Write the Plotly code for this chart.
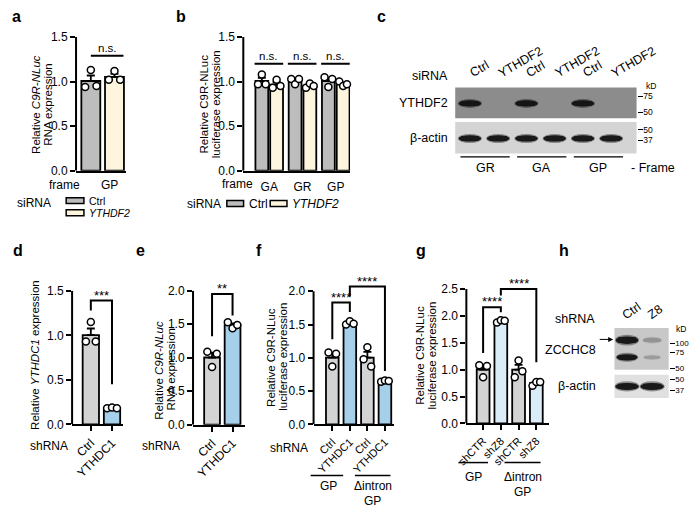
import numpy as np
import plotly.graph_objects as go

W, H = 696, 515
FONT = "Liberation Sans, Arial, Helvetica, sans-serif"
FS = 11.5
TFS = 12

# ---------------- data ----------------
A_FRAMES = ["GP"]
A_CTRL = [0.94, 1.13, 0.95]
A_YTHDF2 = [1.02, 1.12, 1.02]

B_FRAMES = ["GA", "GR", "GP"]
B_CTRL = [[0.97, 1.08, 0.97], [1.03, 0.97, 1.03], [1.05, 0.94, 1.03]]
B_YTHDF2 = [[0.93, 1.02, 0.95], [0.93, 0.98, 0.95], [1.00, 0.95, 0.97]]

D_LABELS = ["Ctrl", "YTHDC1"]
D_REPS = [[0.93, 1.15, 0.93], [0.18, 0.19, 0.18]]

E_LABELS = ["Ctrl", "YTHDC1"]
E_REPS = [[1.09, 0.86, 1.06], [1.53, 1.44, 1.49]]

F_LABELS = ["Ctrl", "YTHDC1", "Ctrl", "YTHDC1"]
F_REPS = [[1.08, 0.87, 1.06], [1.50, 1.55, 1.51], [0.98, 1.16, 0.87], [0.64, 0.66, 0.65]]

G_LABELS = ["shCTR", "shZ8", "shCTR", "shZ8"]
G_REPS = [[1.08, 0.86, 1.07], [1.88, 1.92, 1.91], [0.86, 1.17, 0.97], [0.70, 0.77, 0.77]]

# significance: (bar i, bar j, bracket top, leg i bottom, leg j bottom, label)
D_SIG = [(0, 1, 1.39, 1.28, 0.45, "***")]
E_SIG = [(0, 1, 1.95, 1.32, 1.63, "**")]
F_SIG = [(0, 1, 1.83, 1.28, 1.69, "****"), (1, 3, 2.07, 1.92, 0.80, "****")]
G_SIG = [(0, 1, 2.16, 1.31, 2.07, "****"), (1, 3, 2.50, 2.38, 1.14, "****")]
A_NS = 1.29
B_NS = 1.20

# western blots (relative migration 0 = top of strip, 1 = bottom)
C_LANES = ["Ctrl", "YTHDF2", "Ctrl", "YTHDF2", "Ctrl", "YTHDF2"]
C_FRAMES = ["GR", "GA", "GP"]
C_YTHDF2_BAND = [1, 0, 1, 0, 1, 0]
C_ACTIN_BAND = [1, 1, 1, 1, 1, 1]
C_TOP_KD = [75, 50]
C_TOP_KD_POS = [0.29, 0.80]
C_YTHDF2_POS = 0.52
C_BOT_KD = [50, 37]
C_BOT_KD_POS = [0.24, 0.58]
C_ACTIN_POS = 0.52

H_LANES = ["Ctrl", "Z8"]
H_ZC_UPPER = [1.0, 0.3]
H_ZC_LOWER = [1.0, 0.25]
H_ACTIN = [1.0, 1.0]
H_TOP_KD = [100, 75, 50]
H_TOP_KD_POS = [0.37, 0.575, 0.97]
H_ZC_POS = [0.29, 0.70]
H_BOT_KD = [50, 37]
H_BOT_KD_POS = [0.21, 0.67]
H_ACTIN_POS = 0.5

# ---------------- styles ----------------
GRAY_AB = "#bdbdbd"
CREAM = "#fdf5de"
GRAY = "#d3d3d3"
BLUE = "#a6cfe9"
PALE_BLUE = "#dbecf9"
JIT = [-0.3, 0.0, 0.3]

fig = go.Figure()
axes = {}
shapes = []
ann = []


def fx(px):
    return px / W


def fy(py):
    return 1 - py / H


def names(k):
    s = "" if k == 1 else str(k)
    return "x" + s, "y" + s, "xaxis" + s, "yaxis" + s


def text(px, py, s, size=FS, xanchor="center", yanchor="middle", angle=0):
    ann.append(dict(xref="paper", yref="paper", x=fx(px), y=fy(py), text=s,
                    showarrow=False, xanchor=xanchor, yanchor=yanchor,
                    textangle=angle, font=dict(size=size)))


def hline(x0, x1, py, width=1.5):
    shapes.append(dict(type="line", xref="paper", yref="paper", x0=fx(x0), x1=fx(x1),
                       y0=fy(py), y1=fy(py), line=dict(color="black", width=width)))


def bar_panel(k, ax, end, c0, u, zero, ppu, ytop, rtop, yticks, xtickvals=(),
              xticktext=(), xticks=True, tickangle=-45, standoff=None, xfs=TFS):
    xr, yr, xk, yk = names(k)
    axes[xk] = dict(domain=[fx(ax), fx(end)], range=[-(c0 - ax) / u, (end - c0) / u],
                    anchor=yr, showline=True, linewidth=2, linecolor="black",
                    showgrid=False, zeroline=False,
                    ticks="outside" if xticks else "", ticklen=5, tickwidth=2,
                    tickcolor="black", tickmode="array", tickvals=list(xtickvals),
                    ticktext=list(xticktext), tickangle=tickangle,
                    tickfont=dict(size=xfs))
    if standoff is not None:
        axes[xk]["ticklabelstandoff"] = standoff
    axes[yk] = dict(domain=[fy(zero), fy(zero - rtop * ppu)], range=[0, rtop], anchor=xr,
                    showline=False, showgrid=False, zeroline=False, ticks="outside",
                    ticklen=5, tickwidth=2, tickcolor="black", tickmode="array",
                    tickvals=list(yticks), ticktext=[f"{v:.1f}" for v in yticks],
                    tickfont=dict(size=TFS))
    shapes.append(dict(type="line", xref=xr + " domain", yref=yr, x0=0, x1=0, y0=0,
                       y1=ytop, line=dict(color="black", width=2)))
    return xr, yr


def add_bars(xr, yr, xs, reps, colors, width):
    means = [float(np.mean(r)) for r in reps]
    sems = [float(np.std(r, ddof=1) / np.sqrt(len(r))) for r in reps]
    fig.add_trace(go.Bar(x=list(xs), y=means, width=width, xaxis=xr, yaxis=yr,
                         marker=dict(color=colors, line=dict(color="black", width=1.8)),
                         error_y=dict(type="data", symmetric=False, array=sems,
                                      arrayminus=[0] * len(sems), color="black",
                                      thickness=1.8, width=4),
                         showlegend=False, hoverinfo="skip"))
    px_, py_ = [], []
    for x, r in zip(xs, reps):
        for j, v in zip(JIT, r):
            px_.append(x + j * width)
            py_.append(v)
    fig.add_trace(go.Scatter(x=px_, y=py_, mode="markers", xaxis=xr, yaxis=yr,
                             marker=dict(size=7, color="white",
                                         line=dict(color="black", width=1.5)),
                             showlegend=False, hoverinfo="skip", cliponaxis=False))


def add_sig(xr, yr, sigs):
    for i, j, top, li, lj, lab in sigs:
        shapes.append(dict(type="path", xref=xr, yref=yr,
                           path=f"M {i},{li} L {i},{top} L {j},{top} L {j},{lj}",
                           line=dict(color="black", width=2)))
        ann.append(dict(xref=xr, yref=yr, x=(i + j) / 2, y=top, text=lab,
                        showarrow=False, yanchor="bottom", yshift=-4,
                        font=dict(size=13)))


def ns(xr, yr, x0, x1, y):
    shapes.append(dict(type="line", xref=xr, yref=yr, x0=x0, x1=x1, y0=y, y1=y,
                       line=dict(color="black", width=2)))
    ann.append(dict(xref=xr, yref=yr, x=(x0 + x1) / 2, y=y, text="n.s.",
                    showarrow=False, yanchor="bottom", yshift=0, font=dict(size=FS)))


# ---------------- panel a ----------------
xa, ya = bar_panel(1, 67, 118, 82, 24, 168.3, 91.6, 1.5, 1.5, [0, 0.5, 1.0, 1.5], xticks=False)
add_bars(xa, ya, [0], [A_CTRL], GRAY_AB, 0.8)
add_bars(xa, ya, [1], [A_YTHDF2], CREAM, 0.8)
ns(xa, ya, 0, 1.38, A_NS)
text(55, 182.5, "frame", size=TFS)
text(101, 182.5, A_FRAMES[0], size=TFS)
text(27, 100, "Relative <i>C9R-NLuc</i>", angle=-90)
text(39, 100, "RNA expression", angle=-90)
text(44, 201, "siRNA", xanchor="right", size=TFS)
for py, col, lab in [(199, GRAY_AB, "Ctrl"), (211.5, CREAM, "<i>YTHDF2</i>")]:
    shapes.append(dict(type="rect", xref="paper", yref="paper", x0=fx(57), x1=fx(75),
                       y0=fy(py + 3), y1=fy(py - 3), fillcolor=col,
                       line=dict(color="black", width=1.5)))
    text(78, py, lab, xanchor="left", size=10.5)

# ---------------- panel b ----------------
xb, yb = bar_panel(2, 236.7, 345, 263, 33.75, 168.3, 91.6, 1.5, 1.5, [0, 0.5, 1.0, 1.5],
                   xtickvals=[0, 1, 2], xticktext=B_FRAMES, xticks=False, tickangle=0,
                   standoff=4)
gpos = np.arange(len(B_FRAMES))
add_bars(xb, yb, gpos - 0.222, B_CTRL, GRAY_AB, 0.385)
add_bars(xb, yb, gpos + 0.222, B_YTHDF2, CREAM, 0.385)
for g in gpos:
    ns(xb, yb, g - 0.44, g + 0.42, B_NS)
text(231, 182, "frame", size=TFS)
text(197, 100, "Relative C9R-NLuc", angle=-90)
text(209, 100, "luciferase expression", angle=-90)
text(216, 202, "siRNA", xanchor="right", size=TFS)
for x0, col, lab in [(220, GRAY_AB, "Ctrl"), (264, CREAM, "<i>YTHDF2</i>")]:
    shapes.append(dict(type="rect", xref="paper", yref="paper", x0=fx(x0), x1=fx(x0 + 17),
                       y0=fy(205), y1=fy(199), fillcolor=col,
                       line=dict(color="black", width=1.5)))
    text(x0 + 20, 202, lab, xanchor="left", size=TFS)

# ---------------- panel d ----------------
xd, yd = bar_panel(3, 63, 115, 82, 21.5, 429, 91.5, 1.5, 1.5, [0, 0.5, 1.0, 1.5],
                   xtickvals=[0, 1], xticktext=D_LABELS)
add_bars(xd, yd, [0, 1], D_REPS, [GRAY, BLUE], 0.77)
add_sig(xd, yd, D_SIG)
text(26, 358, "Relative <i>YTHDC1</i> expression", angle=-90)
text(40, 451.5, "shRNA", size=TFS)

# ---------------- panel e ----------------
xe, ye = bar_panel(4, 185.7, 238.3, 205, 20.8, 429.3, 68.8, 2.0, 2.0,
                   [0, 0.5, 1.0, 1.5, 2.0], xtickvals=[0, 1], xticktext=E_LABELS)
add_bars(xe, ye, [0, 1], E_REPS, [GRAY, BLUE], 0.77)
add_sig(xe, ye, E_SIG)
text(151, 373, "Relative <i>C9R-NLuc</i>", angle=-90)
text(163, 373, "RNA expression", angle=-90)
text(152.7, 451.7, "shRNA", size=TFS)

# ---------------- panel f ----------------
xf, yf = bar_panel(5, 308, 390, 327, 17.8, 429, 68.4, 2.0, 2.12,
                   [0, 0.5, 1.0, 1.5, 2.0], xtickvals=[0, 1, 2, 3], xticktext=F_LABELS,
                   xfs=11)
add_bars(xf, yf, [0, 1, 2, 3], F_REPS, [GRAY, BLUE, GRAY, BLUE], 0.72)
add_sig(xf, yf, F_SIG)
text(265.5, 360, "Relative C9R-NLuc", angle=-90)
text(277.5, 360, "luciferase expression", angle=-90)
text(283, 453, "shRNA", size=TFS)
hline(305, 338, 481.7)
hline(350, 386, 481.7)
text(323, 492.7, "GP", size=TFS)
text(368, 492.7, "Δintron", size=TFS)
text(368, 507.7, "GP", size=TFS)

# ---------------- panel g ----------------
xg, yg = bar_panel(6, 463, 546.7, 480, 18, 428, 55.2, 2.5, 2.56,
                   [0, 0.5, 1.0, 1.5, 2.0, 2.5], xtickvals=[0, 1, 2, 3], xticktext=G_LABELS,
                   xfs=11)
add_bars(xg, yg, [0, 1, 2, 3], G_REPS, [GRAY, PALE_BLUE, GRAY, PALE_BLUE], 0.72)
add_sig(xg, yg, G_SIG)
text(416.5, 358, "Relative C9R-NLuc", angle=-90)
text(428.5, 358, "luciferase expression", angle=-90)
hline(455, 485, 468.3)
hline(501.7, 538.3, 468.3)
text(470, 483.3, "GP", size=TFS)
text(520, 483.3, "Δintron", size=TFS)
text(520, 498.3, "GP", size=TFS)

# ---------------- blots ----------------
DARK = np.array([15, 15, 15])


def hex2rgb(h):
    return np.array([int(h[i:i + 2], 16) for i in (1, 3, 5)], dtype=float)


def mix(bg, t):
    c = hex2rgb(bg) * (1 - t) + DARK * t
    return "rgb(%d,%d,%d)" % tuple(int(round(v)) for v in c)


def blot_strip(k, left, right, top, bottom, lo, hi, bg, kd, kd_pos, nlanes, kfs=8.5):
    xr, yr, xk, yk = names(k)
    axes[xk] = dict(domain=[fx(left), fx(right)], range=[lo, hi], anchor=yr,
                    showline=False, showgrid=False, zeroline=False,
                    showticklabels=False, ticks="")
    axes[yk] = dict(domain=[fy(bottom), fy(top)], range=[1, 0], anchor=xr, side="right",
                    showline=False, showgrid=False, zeroline=False, ticks="outside",
                    ticklen=5, tickwidth=1, tickcolor="black", tickmode="array",
                    tickvals=kd_pos, ticktext=[str(v) for v in kd],
                    tickfont=dict(size=kfs), ticklabelstandoff=-1)
    shapes.append(dict(type="rect", xref=xr + " domain", yref=yr + " domain", x0=0, x1=1,
                       y0=0, y1=1, fillcolor=bg, line=dict(width=0), layer="below"))
    fig.add_trace(go.Scatter(x=list(range(nlanes)), y=[0.5] * nlanes, mode="markers",
                             marker=dict(opacity=0), xaxis=xr, yaxis=yr,
                             showlegend=False, hoverinfo="skip"))
    return xr, yr


def add_band(xr, yr, lane, pos, inten, bg, hw, hh):
    if inten <= 0:
        return
    w = hw * (0.75 + 0.25 * inten)
    h = hh * (0.45 + 0.55 * inten)
    shapes.append(dict(type="circle", xref=xr, yref=yr, x0=lane - w * 1.06,
                       x1=lane + w * 1.06, y0=pos - h * 1.45, y1=pos + h * 1.45,
                       fillcolor=mix(bg, 0.4 * inten), line=dict(width=0)))
    shapes.append(dict(type="circle", xref=xr, yref=yr, x0=lane - w, x1=lane + w,
                       y0=pos - h, y1=pos + h, fillcolor=mix(bg, 0.95 * inten),
                       line=dict(width=0)))
    shapes.append(dict(type="rect", xref=xr, yref=yr, x0=lane - w * 0.78,
                       x1=lane + w * 0.78, y0=pos - h * 0.75, y1=pos + h * 0.75,
                       fillcolor=mix(bg, 0.95 * inten), line=dict(width=0)))


C_UP_BG, C_LO_BG = "#8c8c8c", "#d4d4d4"
H_UP_BG, H_LO_BG = "#c8c8c8", "#e0e0e0"

xc1, yc1 = blot_strip(7, 451.7, 635.7, 82.7, 114.3, -0.52, 5.9, C_UP_BG, C_TOP_KD,
                      C_TOP_KD_POS, len(C_LANES))
xc2, yc2 = blot_strip(8, 451.7, 635.7, 118.3, 150.7, -0.52, 5.9, C_LO_BG, C_BOT_KD,
                      C_BOT_KD_POS, len(C_LANES))
for i, v in enumerate(C_YTHDF2_BAND):
    add_band(xc1, yc1, i, C_YTHDF2_POS, v, C_UP_BG, 0.40, 0.10)
for i, v in enumerate(C_ACTIN_BAND):
    add_band(xc2, yc2, i, C_ACTIN_POS, v, C_LO_BG, 0.40, 0.10)
for i, lab in enumerate(C_LANES):
    ann.append(dict(xref=xc1, yref="paper", x=i, y=fy(78), text=lab, showarrow=False,
                    xanchor="left", yanchor="bottom", xshift=-5, textangle=-30,
                    font=dict(size=12.5)))
text(446, 71, "siRNA", xanchor="right", size=12.5)
text(446, 99, "YTHDF2", xanchor="right", size=12.5)
text(446, 135, "β-actin", xanchor="right", size=12.5)
text(650, 81, "kD", size=8.5)
for g, lab in enumerate(C_FRAMES):
    x0 = 457 + g * 57.5
    hline(x0, x0 + 50, 154, width=1.2)
    text(x0 + 25, 165, lab, size=12.5)
text(628, 165, "- Frame", xanchor="left", size=12.5)

xh1, yh1 = blot_strip(9, 613.3, 668.3, 330, 373, -0.5, 1.66, H_UP_BG, H_TOP_KD,
                      H_TOP_KD_POS, len(H_LANES), kfs=8)
xh2, yh2 = blot_strip(10, 613.3, 668.3, 378, 402, -0.5, 1.66, H_LO_BG, H_BOT_KD,
                      H_BOT_KD_POS, len(H_LANES), kfs=8)
for i, v in enumerate(H_ZC_UPPER):
    add_band(xh1, yh1, i, H_ZC_POS[0], v, H_UP_BG, 0.45, 0.09)
for i, v in enumerate(H_ZC_LOWER):
    add_band(xh1, yh1, i, H_ZC_POS[1], v, H_UP_BG, 0.42, 0.075)
for i, v in enumerate(H_ACTIN):
    add_band(xh2, yh2, i, H_ACTIN_POS, v, H_LO_BG, 0.47, 0.15)
for i, lab in enumerate(H_LANES):
    ann.append(dict(xref=xh1, yref="paper", x=i, y=fy(327), text=lab, showarrow=False,
                    xanchor="left", yanchor="bottom", xshift=-10, textangle=-35,
                    font=dict(size=12.5)))
text(596, 320.7, "shRNA", xanchor="right", size=12.5)
text(597, 353, "ZCCHC8", xanchor="right", size=12.5)
text(597, 390, "β-actin", xanchor="right", size=12.5)
text(681, 331, "kD", size=8.5)
ann.append(dict(xref="paper", yref="paper", x=fx(612), y=fy(341.7), text="",
                showarrow=True, ax=-15, ay=0, arrowhead=2, arrowsize=1, arrowwidth=1,
                arrowcolor="black"))

# ---------------- panel letters ----------------
for lab, px, py in [("a", 7, 21), ("b", 173, 21), ("c", 377, 21), ("d", 8, 261),
                    ("e", 132, 261), ("f", 253, 261), ("g", 417, 261), ("h", 562, 261)]:
    text(px, py, f"<b>{lab}</b>", size=16, yanchor="bottom")

fig.update_layout(
    width=W, height=H, margin=dict(l=0, r=0, t=0, b=0),
    paper_bgcolor="white", plot_bgcolor="rgba(0,0,0,0)",
    font=dict(family=FONT, size=FS, color="black"),
    barmode="overlay", showlegend=False,
    shapes=shapes, annotations=ann, **axes)

fig.write_html("out.html", config={"displayModeBar": False},
               post_script="document.body.style.margin='0';"
                           "document.body.style.overflow='hidden';")
